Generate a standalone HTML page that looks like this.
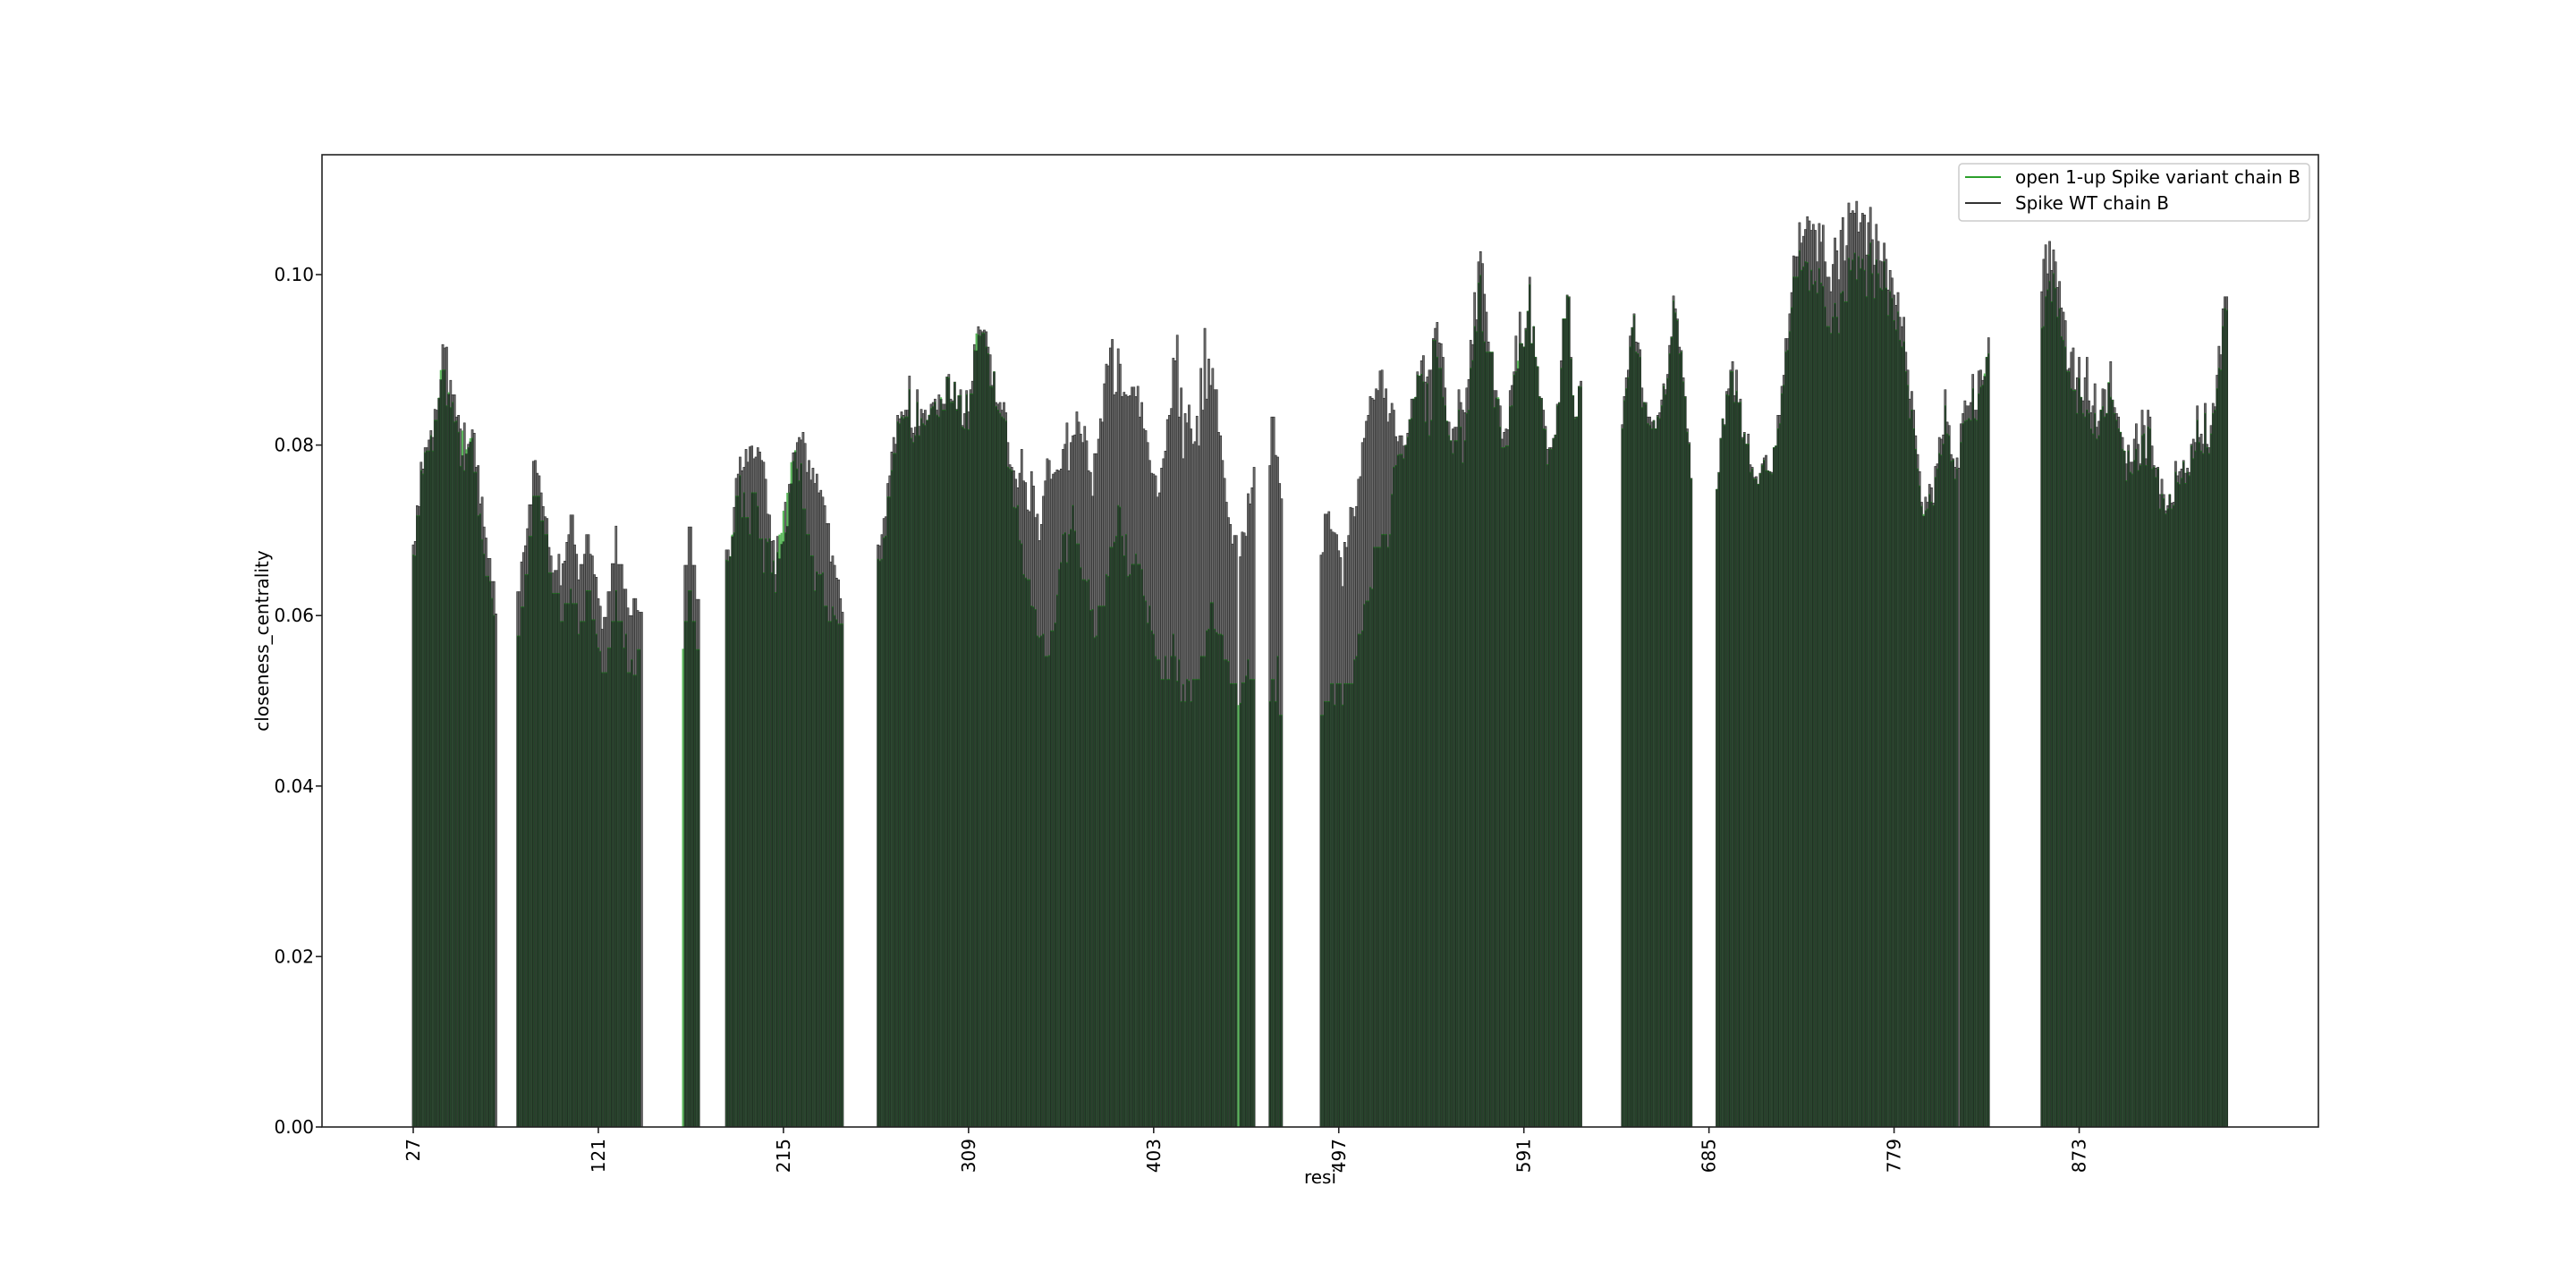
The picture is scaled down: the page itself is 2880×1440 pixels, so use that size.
<!DOCTYPE html>
<html><head><meta charset="utf-8"><title>closeness centrality</title>
<style>html,body{margin:0;padding:0;background:#fff}svg{display:block}text{font-family:"DejaVu Sans","Liberation Sans",sans-serif;fill:#000}</style>
</head><body>
<svg id="chart" width="2880" height="1440" viewBox="0 0 2880 1440" xmlns="http://www.w3.org/2000/svg">
<rect x="0" y="0" width="2880" height="1440" fill="#fff"/>
<g id="bars"></g>
<g id="axes"></g>
<g>
<rect x="2190" y="183" width="392" height="64" rx="4" fill="#fff" fill-opacity="0.8" stroke="#ccc" stroke-width="1.5"/>
<line x1="2197" y1="198" x2="2237" y2="198" stroke="#2ca02c" stroke-width="2"/>
<text x="2253" y="205" font-size="20" textLength="319">open 1-up Spike variant chain B</text>
<line x1="2197" y1="227" x2="2237" y2="227" stroke="#333" stroke-width="2"/>
<text x="2253" y="234" font-size="20" textLength="172">Spike WT chain B</text>
</g>
</svg>
<script>
const segStarts = [27, 80, 164, 186, 263, 462, 488, 641, 689, 854];
const wtSeg1 = [.0683,.0687,.0729,.0728,.0780,.0772,.0797,.0797,.0806,.0817,.0809,.0842,.0841,.0855,.0877,.0918,.0914,.0915,.0860,.0876,.0859,.0859,.0833,.0835,.0819,.0788,.0826,.0790,.0801,.0804,.0818,.0814,.0774,.0776,.0731,.0739,.0704,.0691,.0667,.0667,.0640,.0640,.0602];
const varSeg1 = [.0671,.0670,.0717,.0717,.0770,.0766,.0791,.0793,.0793,.0811,.0793,.0829,.0829,.0855,.0888,.0888,.0888,.0846,.0862,.0844,.0850,.0827,.0828,.0815,.0775,.0817,.0770,.0795,.0797,.0808,.0808,.0768,.0768,.0717,.0719,.0689,.0672,.0646,.0646,.0640,.0620,.0600,0];
const wtSeg2 = [.0628,.0628,.0663,.0674,.0682,.0702,.0730,.0730,.0781,.0782,.0767,.0764,.0744,.0728,.0716,.0714,.0680,.0670,.0650,.0653,.0653,.0672,.0635,.0661,.0664,.0686,.0695,.0718,.0718,.0683,.0672,.0642,.0660,.0660,.0672,.0695,.0695,.0672,.0670,.0648,.0645,.0620,.0611,.0584,.0598,.0598,.0628,.0628,.0661,.0661,.0705,.0660,.0660,.0660,.0631,.0631,.0609,.0600,.0600,.0620,.0620,.0606,.0604,.0604];
const varSeg2 = [.0576,.0576,.0610,.0610,.0648,.0648,.0693,.0693,.0740,.0740,.0740,.0740,.0711,.0711,.0695,.0695,.0650,.0650,.0626,.0626,.0626,.0626,.0593,.0593,.0614,.0614,.0614,.0631,.0614,.0614,.0614,.0578,.0593,.0593,.0593,.0629,.0629,.0629,.0595,.0595,.0578,.0562,.0558,.0533,.0533,.0533,.0562,.0562,.0593,.0593,.0629,.0593,.0593,.0593,.0562,.0578,.0533,.0533,.0548,.0530,.0530,.0560,.0560,0];
const wtSeg3 = [0,.0659,.0659,.0704,.0704,.0659,.0659,.0619,.0619];
const varSeg3 = [.0561,.0593,.0593,.0629,.0629,.0593,.0593,.0560,.0560];
const wtSeg4 = [.0677,.0677,.0669,.0693,.0727,.0761,.0766,.0786,.0770,.0774,.0795,.0780,.0798,.0799,.0784,.0786,.0797,.0792,.0782,.0780,.0760,.0719,.0718,.0687,.0688,.0648,.0693,.0667,.0684,.0687,.0733,.0705,.0754,.0755,.0791,.0792,.0803,.0809,.0806,.0815,.0802,.0768,.0782,.0759,.0773,.0755,.0766,.0744,.0747,.0739,.0729,.0708,.0708,.0663,.0670,.0659,.0644,.0642,.0620,.0604];
const varSeg4 = [.0665,.0664,.0669,.0695,.0697,.0740,.0740,.0764,.0715,.0744,.0715,.0715,.0695,.0744,.0744,.0744,.0728,.0690,.0690,.0650,.0690,.0686,.0690,.0650,.0664,.0627,.0674,.0695,.0697,.0723,.0697,.0744,.0744,.0780,.0781,.0794,.0772,.0758,.0778,.0725,.0725,.0695,.0695,.0670,.0670,.0629,.0651,.0648,.0648,.0650,.0611,.0611,.0593,.0593,.0610,.0600,.0595,.0590,.0590,.0590];
const wtSeg5 = [.0683,.0682,.0695,.0714,.0716,.0755,.0764,.0792,.0809,.0801,.0835,.0831,.0839,.0835,.0841,.0841,.0881,.0820,.0814,.0821,.0865,.0822,.0842,.0837,.0841,.0829,.0835,.0848,.0850,.0854,.0841,.0859,.0854,.0848,.0848,.0880,.0883,.0854,.0852,.0874,.0842,.0858,.0865,.0823,.0837,.0864,.0839,.0865,.0875,.0918,.0911,.0939,.0935,.0933,.0935,.0933,.0915,.0906,.0870,.0886,.0850,.0848,.0850,.0841,.0850,.0838,.0803,.0777,.0774,.0770,.0760,.0750,.0767,.0795,.0758,.0756,.0724,.0722,.0769,.0752,.0715,.0719,.0688,.0707,.0740,.0758,.0784,.0782,.0760,.0766,.0768,.0771,.0770,.0772,.0795,.0801,.0826,.0770,.0803,.0811,.0812,.0839,.0827,.0813,.0803,.0822,.0805,.0770,.0768,.0740,.0790,.0790,.0807,.0831,.0827,.0872,.0895,.0893,.0914,.0924,.0859,.0862,.0913,.0895,.0857,.0862,.0859,.0857,.0858,.0868,.0868,
.0857,.0869,.0833,.0850,.0819,.0817,.0803,.0782,.0767,.0766,.0764,.0739,.0744,.0773,.0784,.0793,.0830,.0835,.0843,.0902,.0899,.0929,.0833,.0867,.0784,.0837,.0826,.0847,.0819,.0801,.0804,.0834,.0799,.0890,.0841,.0937,.0854,.0901,.0870,.0890,.0865,.0865,.0815,.0811,.0782,.0761,.0733,.0715,.0707,.0684,.0694,.0694,
0,.0669,.0698,.0697,.0693,.0743,.0731,.0750,.0774];
const varSeg5 = [.0666,.0664,.0666,.0691,.0693,.0739,.0739,.0770,.0790,.0790,.0827,.0825,.0833,.0831,.0833,.0833,.0865,.0808,.0803,.0811,.0850,.0811,.0831,.0825,.0823,.0829,.0835,.0843,.0845,.0850,.0835,.0833,.0856,.0841,.0841,.0879,.0879,.0850,.0850,.0873,.0841,.0858,.0858,.0821,.0819,.0859,.0818,.0860,.0860,.0911,.0931,.0929,.0928,.0931,.0931,.0915,.0907,.0869,.0868,.0886,.0845,.0841,.0837,.0833,.0831,.0828,.0774,.0772,.0770,.0727,.0726,.0729,.0688,.0684,.0648,.0644,.0642,.0642,.0611,.0610,.0607,.0576,.0574,.0576,.0578,.0552,.0552,.0553,.0582,.0582,.0591,.0624,.0654,.0662,.0695,.0697,.0662,.0695,.0701,.0729,.0699,.0684,.0684,.0656,.0642,.0642,.0640,.0642,.0606,.0607,.0574,.0576,.0611,.0611,.0611,.0611,.0648,.0646,.0680,.0680,.0686,.0693,.0729,.0727,.0693,.0670,.0695,.0646,.0648,.0660,.0660,
.0672,.0660,.0660,.0654,.0623,.0617,.0591,.0611,.0582,.0578,.0552,.0548,.0548,.0525,.0525,.0552,.0525,.0525,.0552,.0578,.0552,.0523,.0548,.0499,.0519,.0499,.0525,.0523,.0499,.0525,.0525,.0525,.0525,.0552,.0552,.0552,.0582,.0584,.0615,.0615,.0584,.0580,.0578,.0578,.0577,.0548,.0548,.0546,.0520,.0520,.0520,.0520,
.0495,.0497,.0521,.0521,.0529,.0548,.0525,.0525,.0525];
const wtSeg6 = [.0776,.0833,.0833,.0788,.0786,.0755,.0737];
const varSeg6 = [.0499,.0525,.0525,.0499,.0552,.0483,.0483];
const wtSeg7 = [.0671,.0674,.0719,.0719,.0722,.0701,.0698,.0697,.0695,.0676,.0668,.0634,.0686,.0680,.0694,.0727,.0726,.0716,.0728,.0760,.0763,.0803,.0808,.0828,.0835,.0857,.0855,.0853,.0866,.0864,.0887,.0888,.0855,.0866,.0827,.0837,.0849,.0841,.0810,.0804,.0811,.0811,.0799,.0800,.0814,.0830,.0854,.0854,.0856,.0886,.0881,.0899,.0905,.0874,.0880,.0888,.0888,.0925,.0937,.0944,.0920,.0919,.0903,.0867,.0828,.0827,.0805,.0819,.0821,.0821,.0865,.0850,.0841,.0838,.0867,.0877,.0923,.0918,.0979,.0947,.1015,.1027,.1013,.0977,.0956,.0921,.0909,.0909,.0864,
.0864,.0854,.0846,.0807,.0815,.0819,.0818,.0864,.0870,.0886,.0928,.0890,.0956,.0919,.0915,.0937,.0957,.0997,.0919,.0939,.0903,.0892,.0857,.0855,.0841,.0822,.0795,.0797,.0797,.0808,.0812,.0848,.0850,.0899,.0948,.0948,.0976,.0974,.0903,.0858,.0833,.0833,.0869,.0875];
const varSeg7 = [.0483,.0483,.0499,.0499,.0499,.0520,.0520,.0495,.0520,.0520,.0520,.0495,.0520,.0520,.0520,.0520,.0520,.0548,.0552,.0578,.0578,.0582,.0613,.0617,.0617,.0633,.0631,.0680,.0680,.0680,.0680,.0695,.0695,.0695,.0680,.0695,.0742,.0774,.0776,.0788,.0789,.0789,.0784,.0799,.0809,.0829,.0831,.0854,.0856,.0882,.0881,.0883,.0874,.0827,.0872,.0811,.0829,.0923,.0923,.0903,.0890,.0890,.0856,.0846,.0828,.0811,.0805,.0790,.0805,.0805,.0841,.0821,.0779,.0805,.0837,.0841,.0890,.0899,.0939,.0933,.0990,.0999,.0933,.0921,.0909,.0909,.0909,.0909,.0844,
.0855,.0856,.0821,.0797,.0797,.0799,.0799,.0845,.0846,.0882,.0886,.0899,.0919,.0919,.0915,.0935,.0957,.0988,.0919,.0939,.0903,.0892,.0856,.0854,.0819,.0818,.0777,.0795,.0795,.0807,.0811,.0846,.0849,.0890,.0948,.0948,.0975,.0973,.0901,.0858,.0831,.0833,.0868,.0868];
const wtSeg8 = [.0824,.0857,.0879,.0888,.0928,.0938,.0954,.0921,.0920,.0912,.0867,.0850,.0850,.0833,.0833,.0827,.0829,.0819,.0835,.0838,.0853,.0872,.0865,.0883,.0917,.0927,.0975,.0960,.0948,.0915,.0911,.0879,.0857,.0819,.0803,.0761];
const varSeg8 = [.0819,.0852,.0866,.0879,.0915,.0937,.0952,.0909,.0907,.0903,.0844,.0850,.0848,.0825,.0823,.0819,.0828,.0819,.0833,.0831,.0846,.0869,.0859,.0878,.0907,.0926,.0969,.0955,.0946,.0907,.0909,.0874,.0856,.0815,.0801,.0760];
const wtSeg9 = [.0748,.0768,.0808,.0831,.0824,.0863,.0866,.0888,.0898,.0858,.0888,.0850,.0854,.0809,.0815,.0801,.0813,.0777,.0774,.0762,.0763,.0754,.0767,.0778,.0785,.0788,.0770,.0769,.0768,.0797,.0799,.0835,.0835,.0869,.0882,.0925,.0925,.0954,.0979,.1022,.1021,.1021,.1061,.1037,.1045,.1053,.1068,.1063,.1052,.1059,.1052,.1015,.1060,.1038,.1058,.1015,.0997,.0997,.0980,.1012,.1043,.1028,.0994,.1052,.1067,.1016,.1034,.1084,.1072,.1075,.1072,.1086,.1050,
.1061,.1072,.1070,.1023,.1061,.1079,.1041,.1011,.1059,.1039,.1016,.1015,.1037,.1018,.0982,.1005,.0996,.0976,.0964,.0979,.0950,.0939,.0950,.0909,.0888,.0854,.0863,.0841,.0811,.0789,.0769,.0733,.0717,.0739,.0733,.0754,.0750,.0732,.0775,.0778,.0809,.0807,.0812,.0865,.0827,.0823,.0789,.0784,.0774,.0785,.0773,.0825,.0837,.0852,.0846,.0846,.0850,.0883,.0841,.0841,.0887,.0888,.0876,.0881,.0903,.0926];
const varSeg9 = [.0748,.0767,.0807,.0830,.0823,.0859,.0858,.0886,.0886,.0850,.0863,.0849,.0850,.0807,.0813,.0801,.0801,.0768,.0772,.0760,.0760,.0754,.0766,.0776,.0782,.0770,.0769,.0768,.0766,.0797,.0799,.0819,.0825,.0860,.0870,.0909,.0911,.0933,.0961,.0997,.0997,.0997,.1028,.1005,.1009,.1015,.1014,.0981,.1005,.0988,.0992,.0978,.1007,.0990,.0986,.0962,.0939,.0939,.0931,.0950,.0966,.0950,.0931,.0978,.0980,.0968,.0968,.1019,.1005,.1017,.1025,.0994,.1021,
.1007,.1018,.1005,.0974,.1023,.1037,.1001,.0972,.1017,.1001,.0984,.0982,.1015,.0984,.0952,.0980,.0972,.0946,.0935,.0956,.0923,.0915,.0921,.0886,.0870,.0831,.0841,.0819,.0795,.0772,.0752,.0728,.0719,.0723,.0725,.0742,.0733,.0729,.0762,.0772,.0790,.0788,.0801,.0846,.0813,.0811,.0781,.0782,.0760,.0772,0,.0803,.0825,.0828,.0829,.0831,.0829,.0866,.0831,.0829,.0860,.0868,.0870,.0884,.0903,.0907];
const wtSeg10 = [.0980,.1018,.1035,.1001,.1039,.1005,.1029,.1015,.0985,.0992,.0961,.0956,.0946,.0888,.0890,.0909,.0914,.0865,.0879,.0903,.0856,.0852,.0879,.0903,.0852,.0838,.0846,.0872,.0821,.0828,.0841,.0866,.0865,.0837,.0873,.0898,.0853,.0844,.0837,.0833,.0815,.0809,.0793,.0778,.0800,.0780,.0780,.0807,.0825,.0801,.0778,.0841,.0823,.0784,.0841,.0833,.0799,.0776,.0773,.0774,.0742,.0760,.0742,.0723,.0729,.0742,.0732,.0733,.0781,.0764,.0769,.0772,.0782,.0767,.0773,.0768,.0801,.0807,.0803,.0846,.0809,.0813,.0801,.0849,.0801,.0797,.0823,.0849,.0845,.0882,.0916,.0906,.0960,.0974,.0974];
const varSeg10 = [.0937,.0939,.0974,.0982,.0992,.0968,.1001,.0984,.0950,.0960,.0927,.0923,.0915,.0886,.0886,.0866,.0864,.0864,.0837,.0878,.0856,.0837,.0833,.0841,.0837,.0819,.0813,.0837,.0807,.0811,.0841,.0845,.0833,.0837,.0874,.0856,.0852,.0837,.0829,.0819,.0815,.0795,.0793,.0758,.0793,.0768,.0766,.0782,.0795,.0770,.0776,.0811,.0813,.0776,.0821,.0819,.0772,.0774,.0762,.0772,.0725,.0742,.0737,.0719,.0725,.0742,.0725,.0729,.0768,.0756,.0754,.0761,.0780,.0755,.0768,.0764,.0799,.0784,.0793,.0829,.0803,.0793,.0790,.0837,.0797,.0790,.0813,.0837,.0841,.0866,.0890,.0888,.0939,.0960,.0958];
const wtSegs = [wtSeg1, wtSeg2, wtSeg3, wtSeg4, wtSeg5, wtSeg6, wtSeg7, wtSeg8, wtSeg9, wtSeg10];
const varSegs = [varSeg1, varSeg2, varSeg3, varSeg4, varSeg5, varSeg6, varSeg7, varSeg8, varSeg9, varSeg10];
const yTickValues = [0, 0.02, 0.04, 0.06, 0.08, 0.10];
const yTickLabels = ["0.00", "0.02", "0.04", "0.06", "0.08", "0.10"];
const xTickValues = [27, 121, 215, 309, 403, 497, 591, 685, 779, 873];

const NS = "http://www.w3.org/2000/svg";
const L = 360, R = 2592, T = 173, B = 1260;
const yMax = 0.11406;
const resPx = 2.2016;
function xScale(r) { return 462 + (r - 27) * resPx; }
function yScale(v) { return B - v / yMax * (B - T); }
function mk(tag, attrs) { const e = document.createElementNS(NS, tag); for (const k in attrs) e.setAttribute(k, attrs[k]); return e; }

const barsG = document.getElementById("bars");
const axesG = document.getElementById("axes");

for (let s = 0; s < segStarts.length; s++) {
  const wt = wtSegs[s];
  for (let i = 0; i < wt.length; i++) {
    const r = segStarts[s] + i;
    const v = wt[i];
    if (!(v > 0)) continue;
    const x = xScale(r) - resPx / 2;
    const y = yScale(v);
    const el = mk("rect", { x: x, y: y, width: resPx, height: B - y, fill: "#6b6b6b", stroke: "#1a1a1a", "stroke-width": 0.5 });
    
    
    barsG.appendChild(el);
  }
}
for (let s = 0; s < segStarts.length; s++) {
  const va = varSegs[s];
  const wt = wtSegs[s];
  for (let i = 0; i < va.length; i++) {
    const r = segStarts[s] + i;
    const v = va[i];
    if (!(v > 0)) continue;
    const w = wt[i] || 0;
    const x = xScale(r) - resPx / 2;
    const lo = Math.min(v, w);
    if (lo > 0) {
      const y = yScale(lo);
      const el = mk("rect", { x: x + 0.3, y: y, width: resPx - 0.6, height: B - y, fill: "#25452a" });
      
      
      barsG.appendChild(el);
      const edge = mk("line", { x1: x + 0.3, x2: x + resPx - 0.3, y1: y, y2: y, stroke: "#1d7a1d", "stroke-width": 1 });
      
      
      barsG.appendChild(edge);
    }
    if (v > w) {
      const y1 = yScale(v), y2 = yScale(lo);
      const el = mk("rect", { x: x, y: y1, width: resPx, height: y2 - y1, fill: "#5cb85c" });
      
      
      barsG.appendChild(el);
    }
  }
}

const frame = mk("rect", { x: L, y: T, width: R - L, height: B - T, fill: "none", stroke: "#222", "stroke-width": 1.6 });


axesG.appendChild(frame);

for (let i = 0; i < yTickValues.length; i++) {
  const y = yScale(yTickValues[i]);
  const t = mk("line", { x1: L - 7, x2: L, y1: y, y2: y, stroke: "#222", "stroke-width": 1.6 });
  
  
  axesG.appendChild(t);
  const lb = mk("text", { x: L - 9, y: y + 7, "font-size": 20, "text-anchor": "end" });
  lb.textContent = yTickLabels[i];
  
  
  axesG.appendChild(lb);
}
for (let i = 0; i < xTickValues.length; i++) {
  const x = xScale(xTickValues[i]);
  const t = mk("line", { x1: x, x2: x, y1: B, y2: B + 7, stroke: "#222", "stroke-width": 1.6 });
  
  
  axesG.appendChild(t);
  const lb = mk("text", { x: 0, y: 0, "font-size": 20, "text-anchor": "end", transform: "translate(" + (x + 7) + "," + (B + 13) + ") rotate(-90)" });
  lb.textContent = String(xTickValues[i]);
  
  
  axesG.appendChild(lb);
}
const xt = mk("text", { x: (L + R) / 2, y: 1323, "font-size": 20, "text-anchor": "middle" });
xt.textContent = "resi";


axesG.appendChild(xt);
const yt = mk("text", { x: 0, y: 0, "font-size": 20, "text-anchor": "middle", transform: "translate(300," + ((T + B) / 2) + ") rotate(-90)" });
yt.textContent = "closeness_centrality";


axesG.appendChild(yt);
</script>
</body></html>
